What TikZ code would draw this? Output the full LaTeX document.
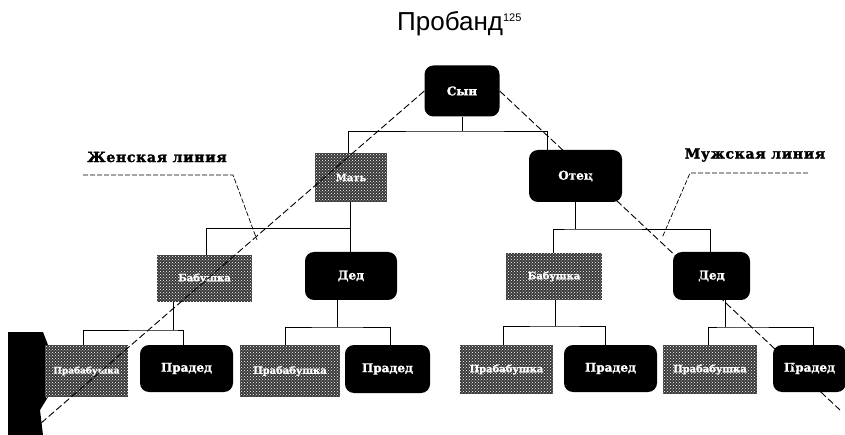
\documentclass[tikz,border=0pt]{standalone}
\usepackage{fontspec}
\setmainfont{Liberation Serif}
\newfontfamily\titlefont{Liberation Sans}
\newfontfamily\linefont[LetterSpace=5,FakeBold=2]{DejaVu Serif}
\newfontfamily\boxfont[FakeBold=1.5]{DejaVu Serif}
\usetikzlibrary{calc,patterns}
\begin{document}
\begin{tikzpicture}[x=1pt,y=-1pt,
  darkbox/.style={fill=black, rounded corners=9pt, text=white, inner sep=0pt,
    font=\boxfont\bfseries\fontsize{12}{12}\selectfont},
  texbox/.style={fill=black!78, inner sep=0pt,
    postaction={pattern=crosshatch dots, pattern color=white!45},
    text=white!75, font=\boxfont\bfseries\fontsize{10}{10}\selectfont},
  br/.style={black, line width=0.6pt},
  lin/.style={black, line width=0.9pt, dash pattern=on 7pt off 3pt},
  ptr/.style={black, line width=0.7pt, dash pattern=on 5pt off 2pt},
  lbl/.style={font=\linefont\bfseries\fontsize{14}{14}\selectfont, inner sep=0pt},
]
\useasboundingbox (0,0) rectangle (845,435);
\fill[white] (0,0) rectangle (845,435);

% title
\node[font=\titlefont\fontsize{26}{26}\selectfont, inner sep=0pt, anchor=base west] (title) at (397,31)
  {Пробанд\textsuperscript{\fontsize{11}{11}\selectfont 125}};

% scan artefact at the left edge
\fill[black] (8,332) -- (43,332) -- (48,345) -- (48,397) -- (40,410) -- (43,435) -- (8,435) -- cycle;

% level 0
\node[darkbox, minimum width=75pt, minimum height=51pt] (son) at (462,91) {Сын};
% level 1
\node[texbox, minimum width=72pt, minimum height=49pt] (mother) at (351,177.5) {Мать};
\node[darkbox, minimum width=93pt, minimum height=52pt] (father) at (575.5,176) {Отец};
% level 2
\node[texbox, minimum width=95pt, minimum height=47pt] (mm) at (204.5,278.5) {Бабушка};
\node[darkbox, minimum width=92pt, minimum height=48pt] (mf) at (351,276) {Дед};
\node[texbox, minimum width=96pt, minimum height=47pt] (fm) at (554,276.5) {Бабушка};
\node[darkbox, minimum width=77pt, minimum height=48pt] (ff) at (711.5,276) {Дед};
% level 3
\node[texbox, minimum width=83pt, minimum height=52pt, font=\boxfont\bfseries\fontsize{9}{9}\selectfont] (g1) at (86.5,371) {Прабабушка};
\node[darkbox, minimum width=93pt, minimum height=47pt] (g2) at (186.5,368.5) {Прадед};
\node[texbox, minimum width=100pt, minimum height=52pt] (g3) at (290,371) {Прабабушка};
\node[darkbox, minimum width=85pt, minimum height=48pt] (g4) at (387.5,369) {Прадед};
\node[texbox, minimum width=93pt, minimum height=49pt] (g5) at (506.5,369.5) {Прабабушка};
\node[darkbox, minimum width=93pt, minimum height=47pt] (g6) at (610.5,368.5) {Прадед};
\node[texbox, minimum width=94pt, minimum height=49pt] (g7) at (710,369.5) {Прабабушка};
\node[darkbox, minimum width=73pt, minimum height=47pt] (g8) at (809.5,368.5) {Прадед};

% brackets
\coordinate (b0) at (462,131);
\draw[br] (son.south -| b0) -- (b0);
\draw[br] (mother.north -| 348,0) |- (b0) -| (father.north -| 547,0);

\coordinate (b1) at (350,228);
\draw[br] (mother.south -| b1) -- (b1);
\draw[br] (mm.north -| 206,0) |- (b1) -| (mf.north -| 350,0);

\coordinate (b2) at (575,229);
\draw[br] (father.south -| b2) -- (b2);
\draw[br] (fm.north -| 553,0) |- (b2) -| (ff.north -| 710,0);

\coordinate (b3) at (173,330);
\draw[br] (mm.south -| b3) -- (b3);
\draw[br] (g1.north -| 83,0) |- (b3) -| (g2.north -| 183,0);

\coordinate (b4) at (337,327);
\draw[br] (mf.south -| b4) -- (b4);
\draw[br] (g3.north -| 285,0) |- (b4) -| (g4.north -| 390,0);

\coordinate (b5) at (555,326);
\draw[br] (fm.south -| b5) -- (b5);
\draw[br] (g5.north -| 503,0) |- (b5) -| (g6.north -| 605,0);

\coordinate (b6) at (725,327);
\draw[br] (ff.south -| b6) -- (b6);
\draw[br] (g7.north -| 708,0) |- (b6) -| (g8.north -| 813,0);

% lineage lines
\coordinate (fend) at (40,424);
\coordinate (mend) at (840,410);
\draw[lin] (son.west) -- (fend);
\draw[lin] (son.east) -- (mend);

% labels
\node[lbl] (flab) at (157,157) {Женская линия};
\coordinate (fu1) at (83,175);
\coordinate (fu2) at (233,175);
\coordinate (fp) at (257,240);
\draw[ptr] (fu1) -- (fu2) -- (fp);

\node[lbl] (mlab) at (755,155) {Мужская линия};
\coordinate (mu1) at (690,173);
\coordinate (mu2) at (808,173);
\coordinate (mp) at (662,238);
\draw[ptr] (mu2) -- (mu1) -- (mp);
\end{tikzpicture}
\end{document}
